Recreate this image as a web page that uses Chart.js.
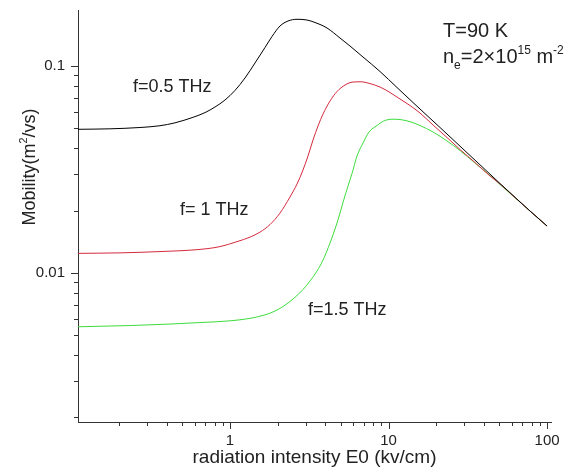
<!DOCTYPE html>
<html>
<head>
<meta charset="utf-8">
<script src="https://cdn.jsdelivr.net/npm/chart.js@4.4.1/dist/chart.umd.min.js"></script>
<style>
  html, body { margin: 0; padding: 0; background: #fff; }
  canvas { display: block; }
</style>
</head>
<body>
<canvas id="c" width="568" height="472"></canvas>
<script>
// ---- data (log-log axes) ----
// f = 0.5 THz (black)
const xHalf = [0.1099, 0.1749, 0.2705, 0.3617, 0.4498, 0.5841, 0.6955, 0.8042, 0.9300, 1.0752, 1.2435, 1.4380, 1.6630, 1.8408, 2.0680, 2.3228, 2.6472, 3.0610, 3.4383, 4.0926, 4.9431, 5.7153, 6.9041, 8.8408, 11.314, 14.275, 17.500, 21.135, 26.277, 32.682, 40.634, 50.528, 62.836, 78.115, 100];
const yHalf = [0.04941, 0.04968, 0.05041, 0.05142, 0.05310, 0.05646, 0.05950, 0.06333, 0.06846, 0.07613, 0.08749, 0.10340, 0.12288, 0.13888, 0.15614, 0.16508, 0.16824, 0.16693, 0.16234, 0.15272, 0.13656, 0.12498, 0.11053, 0.09405, 0.07870, 0.06657, 0.05760, 0.05041, 0.04313, 0.03690, 0.03157, 0.02701, 0.02316, 0.01988, 0.01682];

// f = 1 THz (red)
const xOne = [0.1099, 0.2023, 0.3617, 0.6467, 0.8647, 1.1069, 1.3374, 1.5465, 1.7881, 2.0680, 2.3902, 2.6472, 2.8876, 3.1055, 3.3399, 3.5914, 3.8627, 4.2756, 4.7338, 5.3163, 5.9715, 6.7079, 7.5336, 8.8408, 10.221, 11.817, 13.663, 15.801, 19.090, 23.391, 28.256, 35.138, 43.699, 50.528, 62.836, 78.115, 100];
const yOne = [0.01241, 0.01248, 0.01266, 0.01297, 0.01338, 0.01414, 0.01487, 0.01572, 0.01710, 0.01944, 0.02324, 0.02686, 0.03140, 0.03670, 0.04385, 0.05126, 0.05857, 0.06771, 0.07528, 0.08091, 0.08367, 0.08386, 0.08246, 0.07913, 0.07445, 0.06924, 0.06439, 0.05922, 0.05183, 0.04508, 0.03945, 0.03412, 0.02936, 0.02686, 0.02311, 0.01988, 0.01682];

// f = 1.5 THz (green)
const xOneHalf = [0.1099, 0.2339, 0.4182, 0.6467, 1.0000, 1.3374, 1.6630, 1.9223, 2.1597, 2.4975, 2.8876, 3.1970, 3.5396, 3.8627, 4.2756, 4.6654, 4.9431, 5.2389, 5.5530, 5.8853, 6.3295, 6.9041, 7.5336, 8.4608, 9.3325, 10.522, 11.817, 13.663, 15.801, 19.090, 23.391, 28.256, 35.138, 43.699, 50.528, 62.836, 78.115, 100];
const yOneHalf = [0.005479, 0.005554, 0.005646, 0.005742, 0.005853, 0.006017, 0.006255, 0.006526, 0.006862, 0.007459, 0.008294, 0.009118, 0.010190, 0.011518, 0.013921, 0.016819, 0.019444, 0.022726, 0.026271, 0.030193, 0.036702, 0.042421, 0.047952, 0.051534, 0.054190, 0.055285, 0.055104, 0.053770, 0.051534, 0.047950, 0.043380, 0.039020, 0.033930, 0.029530, 0.026710, 0.02304, 0.01988, 0.01682];

const seriesNames = ['f=0.5 THz', 'f= 1 THz', 'f=1.5 THz'];

// tick positions and labels
const xTicks = [0.2, 0.3, 0.4, 0.5, 0.6, 0.7, 0.8, 0.9, 1, 2, 3, 4, 5, 6, 7, 8, 9, 10, 20, 30, 40, 50, 60, 70, 80, 90, 100];
const xTickLabels = ['1', '10', '100'];
const yTicks = [0.002, 0.003, 0.004, 0.005, 0.006, 0.007, 0.008, 0.009, 0.01, 0.02, 0.03, 0.04, 0.05, 0.06, 0.07, 0.08, 0.09, 0.1];
const yTickLabels = ['0.01', '0.1'];

const xTitle = 'radiation intensity E0 (kv/cm)';
const FONT = '"Liberation Sans", Arial, sans-serif';
const TXT = '#222';

function pts(xs, ys) { return xs.map((x, i) => ({ x: x, y: ys[i] })); }
function isDecade(v) { const l = Math.log10(v); return Math.abs(l - Math.round(l)) < 1e-9; }
function labelFor(list, v) {
  const f = list.find(l => Math.abs(parseFloat(l) - v) < 1e-12);
  return f === undefined ? '' : f;
}

// tick marks (major longer than minor), placed through the library's scales
const tickMarks = {
  id: 'tickMarks',
  afterDraw(chart) {
    const ctx = chart.ctx, xs = chart.scales.x, ys = chart.scales.y;
    ctx.save();
    ctx.strokeStyle = '#333';
    ctx.lineWidth = 1;
    ctx.beginPath();
    xs.ticks.forEach(t => {
      const p = Math.round(xs.getPixelForValue(t.value)) + 0.5;
      const len = isDecade(t.value) ? 7 : 4;
      ctx.moveTo(p, xs.top);
      ctx.lineTo(p, xs.top + len);
    });
    ys.ticks.forEach(t => {
      const p = Math.round(ys.getPixelForValue(t.value)) + 0.5;
      const len = isDecade(t.value) ? 7 : 4;
      ctx.moveTo(ys.right, p);
      ctx.lineTo(ys.right - len, p);
    });
    ctx.stroke();
    ctx.restore();
  }
};

// text runs with sub/superscripts
function drawRich(ctx, x, y, pieces, size) {
  let cx = x;
  pieces.forEach(p => {
    const s = p.s ? size * 0.6 : size;
    ctx.font = s + 'px ' + FONT;
    const dy = p.s === 'sup' ? -size * 0.45 : (p.s === 'sub' ? size * 0.3 : 0);
    ctx.fillText(p.t, cx, y + dy);
    cx += ctx.measureText(p.t).width;
  });
  return cx - x;
}
function richWidth(ctx, pieces, size) {
  let w = 0;
  pieces.forEach(p => {
    const s = p.s ? size * 0.6 : size;
    ctx.font = s + 'px ' + FONT;
    w += ctx.measureText(p.t).width;
  });
  return w;
}

const annotations = {
  id: 'annotations',
  afterDraw(chart) {
    const ctx = chart.ctx;
    ctx.save();
    ctx.fillStyle = TXT;
    ctx.textBaseline = 'alphabetic';
    ctx.textAlign = 'left';
    ctx.font = '18px ' + FONT;
    ctx.fillText(seriesNames[0], 133, 92);
    ctx.fillText(seriesNames[1], 180, 215);
    ctx.fillText(seriesNames[2], 308, 315);
    ctx.font = '20px ' + FONT;
    ctx.fillText('T=90 K', 443, 37);
    drawRich(ctx, 443, 63, [
      { t: 'n' }, { t: 'e', s: 'sub' }, { t: '=2\u00d710' }, { t: '15', s: 'sup' },
      { t: ' m' }, { t: '-2', s: 'sup' }
    ], 20);
    const yPieces = [{ t: 'Mobility(m' }, { t: '2', s: 'sup' }, { t: '/vs)' }];
    const w = richWidth(ctx, yPieces, 18);
    ctx.translate(35, 167);
    ctx.rotate(-Math.PI / 2);
    drawRich(ctx, -w / 2, 0, yPieces, 18);
    ctx.restore();
  }
};

const lineStyle = { borderWidth: 1, pointRadius: 0, fill: false, cubicInterpolationMode: 'monotone' };

new Chart(document.getElementById('c'), {
  type: 'line',
  data: {
    datasets: [
      Object.assign({ label: seriesNames[0], data: pts(xHalf, yHalf), borderColor: '#000000' }, lineStyle),
      Object.assign({ label: seriesNames[1], data: pts(xOne, yOne), borderColor: '#d42a3c' }, lineStyle),
      Object.assign({ label: seriesNames[2], data: pts(xOneHalf, yOneHalf), borderColor: '#3ddc3d' }, lineStyle)
    ]
  },
  options: {
    responsive: false,
    animation: false,
    layout: { padding: { top: 10, right: 17, left: 0, bottom: 0 } },
    plugins: { legend: { display: false }, tooltip: { enabled: false } },
    scales: {
      x: {
        type: 'logarithmic',
        min: 0.110,
        max: 105.9,
        afterBuildTicks: s => { s.ticks = xTicks.map(v => ({ value: v })); },
        afterFit: s => { s.height = 50; s.paddingLeft = 0; s.paddingRight = 0; },
        grid: { display: false, drawTicks: false },
        border: { display: true, color: '#333', width: 1 },
        ticks: {
          autoSkip: false, maxRotation: 0, padding: 10, color: TXT,
          font: { family: FONT, size: 15 },
          callback: v => labelFor(xTickLabels, v)
        },
        title: {
          display: true, text: xTitle, color: TXT,
          font: { family: FONT, size: 19 }, padding: { top: 0, bottom: 3 }
        }
      },
      y: {
        type: 'logarithmic',
        min: 0.001897,
        max: 0.1866,
        afterBuildTicks: s => { s.ticks = yTicks.map(v => ({ value: v })); },
        afterFit: s => { s.width = 78; s.paddingTop = 0; s.paddingBottom = 0; },
        grid: { display: false, drawTicks: false },
        border: { display: true, color: '#333', width: 1 },
        ticks: {
          autoSkip: false, padding: 13, color: TXT,
          font: { family: FONT, size: 15 },
          callback: v => labelFor(yTickLabels, v)
        }
      }
    }
  },
  plugins: [tickMarks, annotations]
});
</script>
</body>
</html>
